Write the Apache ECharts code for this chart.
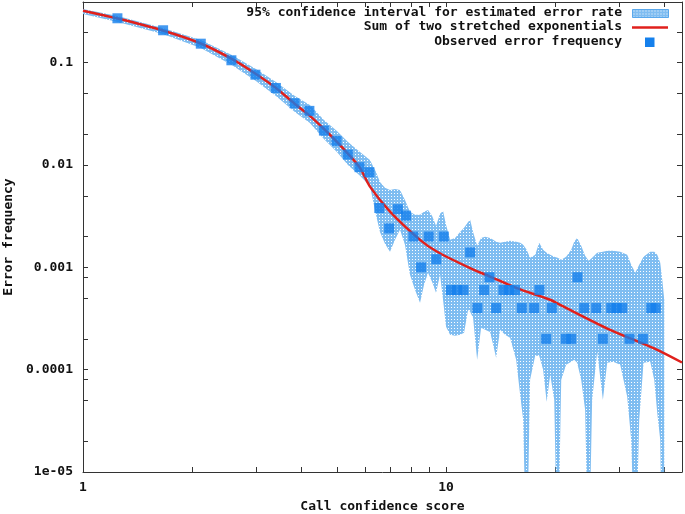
<!DOCTYPE html>
<html>
<head>
<meta charset="utf-8">
<script src="https://cdn.jsdelivr.net/npm/echarts@6/dist/echarts.min.js"></script>
<style>
  html, body { margin: 0; padding: 0; background: #fff; }
  #chart { width: 685px; height: 514px; }
</style>
</head>
<body>
<div id="chart"></div>
<script>
// confidence band
const bandX = [1.0, 1.246, 1.659, 2.111, 2.570, 2.994, 3.400, 3.834, 4.217, 4.609, 5.006, 5.369, 5.793, 6.172,
  6.412, 6.577, 6.789, 7.009, 7.234, 7.467, 7.706, 7.955, 8.212, 8.479, 8.697, 8.920, 9.150, 9.385, 9.627, 9.812,
  10.0, 10.26, 10.59, 10.93, 11.21, 11.50, 11.65, 11.87, 12.18, 12.49, 12.81, 13.22, 13.48, 13.74, 14.09, 14.54,
  15.01, 15.60, 16.00, 16.31, 16.67, 17.04, 17.60, 18.05, 18.51, 18.93, 19.36, 19.86, 20.30, 20.76, 21.42, 22.12,
  22.54, 22.97, 23.56, 24.16, 24.71, 25.26, 26.08, 27.04, 27.79, 28.87, 30.18, 31.55, 32.36, 33.20, 34.05, 34.99,
  36.51, 37.45, 38.17, 38.90, 39.40, 39.91]
const bandUpper = [0.3345, 0.2858, 0.2183, 0.1666, 0.1189, 0.0868, 0.0648, 0.0473, 0.0386, 0.02756, 0.02153, 0.0168,
  0.01342, 0.01121, 0.00856, 0.00684, 0.00598, 0.00571, 0.00584, 0.00571, 0.00456, 0.003483, 0.003256, 0.003256,
  0.003483, 0.003643, 0.003184, 0.002543, 0.003331, 0.003562, 0.0026, 0.001856, 0.00194, 0.00222, 0.00243, 0.00278,
  0.00291, 0.00222, 0.001622, 0.00194, 0.001986, 0.00194, 0.001856, 0.001774, 0.001735, 0.001774, 0.001815, 0.001774,
  0.001735, 0.001659, 0.001482, 0.001238, 0.001325, 0.001735, 0.001482, 0.001385, 0.001325, 0.001266, 0.001238,
  0.001184, 0.001266, 0.001482, 0.001774, 0.00194, 0.001622, 0.001295, 0.001158, 0.001238, 0.001385, 0.001417,
  0.001449, 0.001449, 0.001417, 0.001325, 0.001058, 0.000884, 0.001058, 0.001266, 0.001417, 0.001417, 0.001325,
  0.001106, 0.000755, 0.000482]
const bandLower = [0.299, 0.2497, 0.1907, 0.1391, 0.0950, 0.0663, 0.0473, 0.0330, 0.02577, 0.01798, 0.01342, 0.01002,
  0.00783, 0.00625, 0.003256, 0.00222, 0.001697, 0.001417, 0.001856, 0.002323, 0.001659, 0.000845, 0.000603, 0.00045,
  0.000675, 0.000884, 0.000722, 0.000564, 0.000845, 0.000482, 0.000262, 0.000219, 0.000214, 0.000219, 0.000229,
  0.000385, 0.000368, 0.000321, 0.000125, 0.000257, 0.000245, 0.000234, 0.000175, 0.0001306, 0.000245, 0.000219,
  0.000205, 0.000125, 0.0000569, 0.0000324, 0.000001, 0.0000797, 0.0001367, 0.0001367, 0.0000998, 0.0000486,
  0.0000892, 0.0000508, 0.000001, 0.0000797, 0.0001117, 0.0001194, 0.000125, 0.0001168, 0.0000797, 0.0000406,
  0.000001, 0.0000508, 0.0001496, 0.0000508, 0.0001168, 0.0001194, 0.0001117, 0.0000544, 0.0000207, 0.000001,
  0.0000324, 0.0001168, 0.0001194, 0.0000797, 0.0000379, 0.0000207, 0.000001, 0.000001]

// fitted curve
const curveX = [1.0, 1.246, 1.659, 2.111, 2.570, 2.994, 3.400, 3.834, 4.217, 4.609, 5.006, 5.369, 5.793, 6.172,
  7.009, 8.479, 9.427, 11.65, 13.22, 15.66, 19.36, 20.62, 28.33, 37.29, 44.66]
const curveY = [0.322, 0.270, 0.2063, 0.154, 0.1087, 0.0775, 0.0566, 0.0395, 0.0302, 0.0225, 0.0168, 0.01284,
  0.00937, 0.00615, 0.00351, 0.001856, 0.001427, 0.000982, 0.000813, 0.000626, 0.000482, 0.00043, 0.000245,
  0.0001625, 0.0001175]

// observed error frequency
const obsX = [1.244, 1.662, 2.111, 2.563, 2.985, 3.399, 3.825, 4.203, 4.609, 4.993, 5.366, 5.776, 6.151, 6.548,
  6.969, 7.367, 7.760, 8.131, 8.536, 8.96, 9.40, 9.86, 10.32, 10.72, 11.17, 11.65, 12.2, 12.73, 13.17, 13.74, 14.39,
  14.92, 15.50, 16.17, 17.48, 18.08, 18.87, 19.56, 21.38, 22.12, 23.01, 24.02, 25.92, 27.04, 28.51, 29.52, 30.57,
  32.02, 34.85, 36.75, 37.81]
const obsY = [0.2715, 0.2073, 0.1533, 0.1055, 0.0763, 0.0566, 0.0401, 0.0338, 0.02168, 0.01719, 0.01264, 0.00952,
  0.0085, 0.0038, 0.0024, 0.0037, 0.0032, 0.002, 0.001, 0.002, 0.0012, 0.002, 0.0006, 0.0006, 0.0006, 0.0014, 0.0004,
  0.0006, 0.0008, 0.0004, 0.0006, 0.0006, 0.0006, 0.0004, 0.0004, 0.0006, 0.0002, 0.0004, 0.0002, 0.0002, 0.0008,
  0.0004, 0.0004, 0.0002, 0.0004, 0.0004, 0.0004, 0.0002, 0.0002, 0.0004, 0.0004]

// ticks
const xLabelValues = [1, 10]
const xLabelText = ['1', '10']
const xTickValues = [1, 2, 3, 4, 5, 6, 7, 8, 9, 10, 20, 30, 40]
const yLabelValues = [0.00001, 0.0001, 0.001, 0.01, 0.1]
const yLabelText = ['1e-05', '0.0001', '0.001', '0.01', '0.1']
const yTickValues = [0.00001, 0.00002, 0.00005, 0.00008, 0.0001, 0.0002, 0.0005, 0.0008, 0.001, 0.002, 0.005,
  0.01, 0.02, 0.05, 0.1, 0.2]

const names = ['95% confidence interval for estimated error rate', 'Sum of two stretched exponentials', 'Observed error frequency']

const FONT = 'DejaVu Sans Mono'
const RED = '#e0201c'
const BLUE = '#1580ec'

function makePattern() {
  const c = document.createElement('canvas')
  c.width = 3
  c.height = 3
  const ctx = c.getContext('2d')
  ctx.fillStyle = '#7fbdf1'
  ctx.fillRect(0, 0, 3, 3)
  ctx.fillStyle = '#ffffff'
  ctx.fillRect(1, 1, 1, 1)
  return { image: c, repeat: 'repeat' }
}
const pattern = makePattern()

function labelFor(values, texts) {
  return function (v) {
    for (let i = 0; i < values.length; i++) {
      if (Math.abs(Math.log10(v) - Math.log10(values[i])) < 1e-6) return texts[i]
    }
    return ''
  }
}

const textStyle = { fontFamily: FONT, fontWeight: 'bold', fontSize: 13, color: '#111' }
const lineStyle = { color: '#333', width: 1 }

function xAxisOpt(pos, withLabels) {
  return {
    type: 'log', logBase: 10, min: 1, max: 44.66, position: pos,
    axisLine: { show: true, lineStyle: lineStyle },
    axisTick: { show: true, inside: true, length: 5, customValues: xTickValues, lineStyle: lineStyle },
    axisLabel: withLabels ? Object.assign({
      show: true, margin: 9, customValues: xLabelValues, formatter: labelFor(xLabelValues, xLabelText)
    }, textStyle) : { show: false },
    splitLine: { show: false },
    name: withLabels ? 'Call confidence score' : '',
    nameLocation: 'middle', nameGap: 28, nameTextStyle: textStyle
  }
}
function yAxisOpt(pos, withLabels) {
  return {
    type: 'log', logBase: 10, min: 0.00001, max: 0.3916, position: pos,
    axisLine: { show: true, lineStyle: lineStyle },
    axisTick: { show: true, inside: true, length: 5, customValues: yTickValues, lineStyle: lineStyle },
    axisLabel: withLabels ? Object.assign({
      show: true, margin: 10, customValues: yLabelValues, formatter: labelFor(yLabelValues, yLabelText)
    }, textStyle) : { show: false },
    splitLine: { show: false },
    name: withLabels ? 'Error frequency' : '',
    nameLocation: 'middle', nameGap: 68, nameRotate: 90, nameTextStyle: textStyle
  }
}

const chart = echarts.init(document.getElementById('chart'))
chart.setOption({
  animation: false,
  backgroundColor: '#fff',
  grid: { left: 83, right: 3, top: 2, bottom: 42, containLabel: false, outerBoundsMode: 'none' },
  xAxis: [xAxisOpt('bottom', true), xAxisOpt('top', false)],
  yAxis: [yAxisOpt('left', true), yAxisOpt('right', false)],
  series: [
    {
      name: names[0],
      type: 'custom',
      coordinateSystem: 'cartesian2d',
      xAxisIndex: 0, yAxisIndex: 0,
      clip: true,
      silent: true,
      data: [[bandX[0], bandUpper[0]]],
      renderItem: function (params, api) {
        const pts = []
        for (let i = 0; i < bandX.length; i++) pts.push(api.coord([bandX[i], bandUpper[i]]))
        for (let i = bandX.length - 1; i >= 0; i--) pts.push(api.coord([bandX[i], bandLower[i]]))
        const cs = params.coordSys
        return {
          type: 'polygon',
          shape: { points: pts },
          style: { fill: pattern, stroke: null },
          clipPath: { type: 'rect', shape: { x: cs.x, y: cs.y, width: cs.width, height: cs.height } }
        }
      },
      z: 1
    },
    {
      name: names[1],
      type: 'line',
      data: curveX.map((x, i) => [x, curveY[i]]),
      smooth: 0.3,
      showSymbol: false,
      lineStyle: { color: RED, width: 2.5 },
      itemStyle: { color: RED },
      z: 2
    },
    {
      name: names[2],
      type: 'scatter',
      data: obsX.map((x, i) => [x, obsY[i]]),
      symbol: 'rect',
      symbolSize: 10,
      itemStyle: { color: BLUE },
      z: 3
    }
  ],
  graphic: [
    { type: 'text', right: 63, top: 6, style: { text: names[0], font: 'bold 13px ' + FONT, fill: '#111' } },
    { type: 'rect', left: 632, top: 9, shape: { width: 36, height: 8 }, style: { fill: pattern, stroke: '#5aa8ec', lineWidth: 1 } },
    { type: 'text', right: 63, top: 20.5, style: { text: names[1], font: 'bold 13px ' + FONT, fill: '#111' } },
    { type: 'line', shape: { x1: 632, y1: 27.5, x2: 668, y2: 27.5 }, style: { stroke: RED, lineWidth: 2.5 } },
    { type: 'text', right: 63, top: 35, style: { text: names[2], font: 'bold 13px ' + FONT, fill: '#111' } },
    { type: 'rect', left: 645, top: 37.5, shape: { width: 9.5, height: 9.5 }, style: { fill: BLUE } }
  ]
})
</script>
</body>
</html>
